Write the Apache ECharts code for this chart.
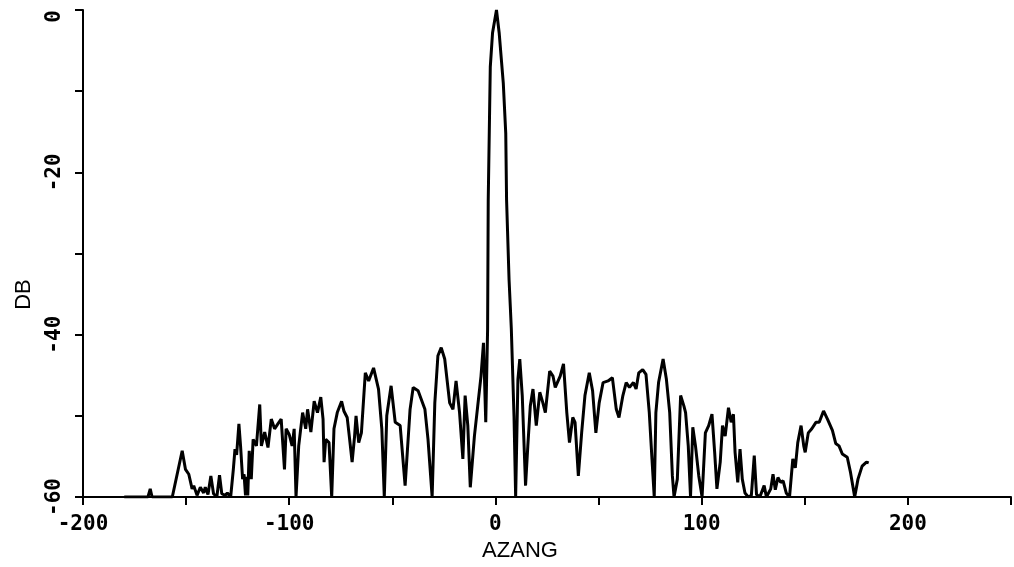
<!DOCTYPE html>
<html>
<head>
<meta charset="utf-8">
<title>DB vs AZANG</title>
<script src="https://cdn.jsdelivr.net/npm/echarts@6/dist/echarts.min.js"></script>
<style>
  html, body { margin: 0; padding: 0; background: #fff; }
  #chart { width: 1014px; height: 567px; }
</style>
</head>
<body>
<div id="chart"></div>
<script>
// azimuth angle (deg) and level (dB)
var azang = [
  -180, -168.5, -167.4, -166.5, -156.7, -151.9, -150.3, -148.7, -147.1, -146.3,
  -144.7, -143.1, -141.5, -140.7, -139.4, -138.0, -136.7, -135.1, -133.8, -132.7,
  -131.1, -130.0, -128.4, -127.1, -126.3, -125.5, -124.4, -123.6, -122.6, -121.9,
  -121.2, -120.6, -120.1, -119.4, -118.4, -117.5, -115.9, -114.3, -113.5, -111.9,
  -110.3, -108.7, -107.1, -105.5, -103.9, -102.3, -101.5, -100.0, -98.6, -97.6,
  -96.7, -95.4, -93.5, -92.0, -91.1, -89.5, -87.9, -86.3, -84.7, -83.6,
  -83.1, -82.3, -80.7, -79.4, -78.3, -76.7, -74.6, -73.5, -71.9, -70.7,
  -69.5, -68.3, -67.6, -66.3, -65.0, -63.1, -61.5, -59.1, -56.7, -55.1,
  -53.9, -52.7, -50.6, -48.6, -46.2, -43.8, -41.4, -39.9, -37.5, -34.2,
  -32.7, -30.7, -29.4, -27.9, -26.3, -24.6, -22.2, -20.6, -19.1, -17.4,
  -15.8, -14.7, -13.4, -12.2, -10.2, -8.6, -7.0, -5.8, -4.7, -3.8,
  -3.5, -3.0, -2.5, -1.4, 0.5, 1.8, 3.8, 5.0, 5.4, 6.6,
  7.2, 7.7, 9.0, 9.8, 10.9, 11.8, 13.0, 14.6, 15.7, 16.9,
  18.2, 19.8, 21.5, 23.0, 24.2, 26.3, 27.9, 29.0, 31.4, 33.0,
  34.6, 35.9, 37.5, 38.6, 40.2, 41.8, 43.4, 45.5, 47.1, 48.7,
  50.3, 52.2, 54.6, 56.7, 58.6, 59.9, 61.8, 63.4, 65.0, 66.9,
  68.2, 69.5, 71.4, 73.0, 74.6, 75.9, 77.0, 77.8, 79.1, 81.3,
  82.9, 84.5, 85.8, 86.6, 88.2, 89.8, 91.4, 92.2, 93.5, 94.6,
  95.7, 97.0, 98.6, 100.2, 101.8, 103.4, 105.0, 106.3, 107.4, 109.0,
  110.1, 111.4, 113.0, 114.3, 115.4, 116.2, 117.5, 118.6, 119.7, 121.0,
  122.6, 124.1, 125.5, 126.6, 128.2, 130.3, 131.4, 133.5, 134.6, 135.7,
  137.0, 138.3, 139.5, 141.0, 142.6, 144.2, 145.4, 146.6, 148.2, 149.5,
  150.2, 151.7, 153.4, 155.4, 157.0, 159.1, 161.0, 163.4, 165.0, 166.6,
  168.2, 170.6, 172.2, 174.2, 175.8, 177.8, 179.9, 181.0
];
var db = [
  -60, -60, -59.0, -60, -60, -54.3, -56.6, -57.2, -59.0, -58.6,
  -59.8, -58.8, -59.5, -58.8, -59.7, -57.4, -59.6, -60, -57.3, -59.6,
  -59.8, -59.5, -60, -56.6, -54.1, -54.8, -51.0, -53.7, -57.8, -57.2,
  -59.8, -57.5, -59.8, -54.3, -57.8, -52.9, -53.7, -48.6, -53.7, -52.0,
  -53.9, -50.4, -51.6, -51.0, -50.4, -56.6, -51.6, -52.3, -53.7, -51.6,
  -60, -53.7, -49.6, -51.6, -49.2, -52.0, -48.2, -49.6, -47.7, -50.4,
  -55.7, -52.9, -53.3, -60, -51.6, -49.6, -48.2, -49.4, -50.2, -52.9,
  -55.7, -52.5, -50.0, -53.3, -52.1, -44.7, -45.7, -44.1, -46.7, -51.6,
  -60, -50.0, -46.3, -50.8, -51.2, -58.6, -49.2, -46.5, -46.9, -49.2,
  -52.9, -60, -48.4, -42.6, -41.6, -43.0, -48.4, -49.2, -45.7, -49.6,
  -55.3, -47.5, -51.2, -58.8, -52.5, -48.8, -45.1, -41.0, -50.8, -39.3,
  -23.4, -15.2, -7.0, -2.8, 0, -2.8, -9.0, -15.2, -23.4, -33.2,
  -36.5, -39.3, -50.0, -60, -45.5, -43.0, -47.5, -58.6, -53.7, -48.8,
  -46.7, -51.2, -47.1, -48.4, -49.6, -44.5, -45.1, -46.5, -45.1, -43.6,
  -49.6, -53.3, -50.2, -50.8, -57.4, -52.1, -47.5, -44.7, -46.9, -52.1,
  -48.4, -45.9, -45.7, -45.3, -49.2, -50.2, -47.5, -45.9, -46.5, -45.9,
  -46.7, -44.7, -44.3, -44.9, -49.6, -55.3, -60, -49.6, -45.9, -43.0,
  -45.5, -49.6, -57.4, -60, -57.8, -47.5, -48.8, -49.6, -53.7, -60,
  -51.4, -53.7, -57.4, -60, -52.1, -51.2, -49.8, -54.5, -59.0, -55.7,
  -51.2, -52.5, -49.0, -50.8, -49.8, -54.5, -58.2, -54.1, -57.8, -59.5,
  -60, -59.8, -54.9, -59.7, -60, -58.6, -60, -59.0, -57.2, -59.1,
  -57.6, -58.2, -58.0, -59.5, -60, -55.3, -56.4, -53.3, -51.2, -53.7,
  -54.5, -52.1, -51.6, -50.8, -50.8, -49.4, -50.4, -51.8, -53.4, -53.7,
  -54.7, -55.1, -57.0, -60, -57.8, -56.2, -55.7, -55.8
];
var xTicks = [-200, -100, 0, 100, 200];
var yTicks = [-60, -40, -20, 0];

var chart = echarts.init(document.getElementById('chart'), null, { renderer: 'canvas' });
var pairs = azang.map(function (a, i) { return [a, db[i]]; });
var labelFont = 'DejaVu Sans Mono';

chart.setOption({
  animation: false,
  backgroundColor: '#fff',
  grid: { left: 83, right: -6, top: 10, bottom: 69 },
  xAxis: {
    type: 'value',
    min: -200,
    max: 250,
    interval: 50,
    name: 'AZANG',
    nameLocation: 'middle',
    nameGap: 43,
    nameTextStyle: { color: '#000', fontSize: 22, fontFamily: 'Liberation Sans', padding: [0, 54, 0, 0] },
    axisLine: { onZero: false, lineStyle: { color: '#000', width: 2 } },
    axisTick: { inside: false, length: 8, lineStyle: { color: '#000', width: 2 } },
    axisLabel: {
      color: '#000', fontSize: 21, fontWeight: 'bold', fontFamily: labelFont, margin: 17,
      formatter: function (v) { return xTicks.indexOf(v) >= 0 ? String(v) : ''; }
    },
    splitLine: { show: false }
  },
  yAxis: {
    type: 'value',
    min: -60,
    max: 0,
    interval: 10,
    name: 'DB',
    nameLocation: 'middle',
    nameRotate: 90,
    nameGap: 48,
    nameTextStyle: { color: '#000', fontSize: 22, fontFamily: 'Liberation Sans', padding: [0, 82, 0, 0] },
    axisLine: { onZero: false, lineStyle: { color: '#000', width: 2 } },
    axisTick: { inside: false, length: 8, lineStyle: { color: '#000', width: 2 } },
    axisLabel: {
      color: '#000', fontSize: 21, fontWeight: 'bold', fontFamily: labelFont, margin: 18, rotate: 90,
      alignMaxLabel: 'right',
      formatter: function (v) { return yTicks.indexOf(v) >= 0 ? String(v) : ''; }
    },
    splitLine: { show: false }
  },
  series: [{
    type: 'line',
    data: pairs,
    showSymbol: false,
    lineStyle: { color: '#000', width: 3 },
    z: 3
  }]
});
</script>
</body>
</html>
